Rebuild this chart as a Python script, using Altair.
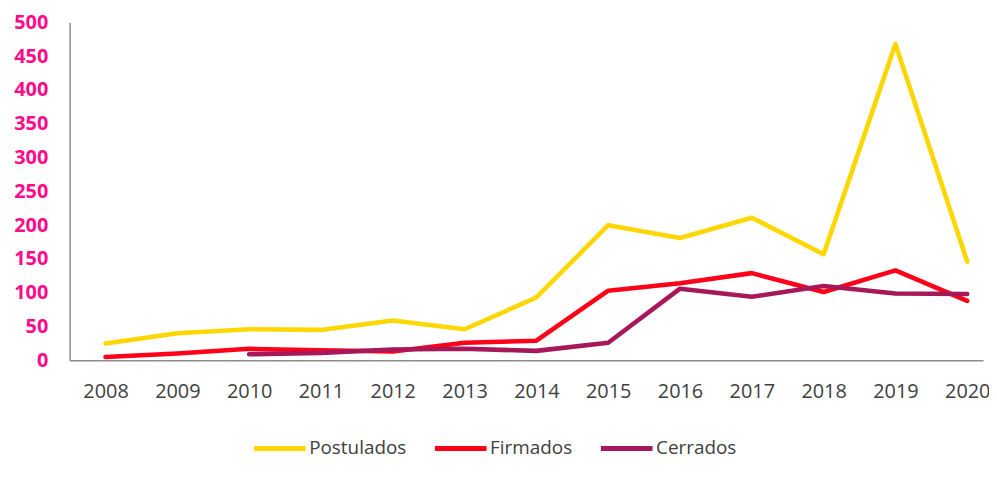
import altair as alt
import pandas as pd

years = list(range(2008, 2021))
postulados = [25, 40, 46, 45, 59, 46, 93, 200, 181, 211, 157, 468, 146]
firmados = [5, 10, 17, 15, 13, 26, 29, 103, 114, 129, 101, 133, 88]
cerrados = [None, None, 9, 11, 16, 17, 14, 26, 106, 94, 110, 99, 98]

series = ["Postulados", "Firmados", "Cerrados"]
colors = ["#FFD700", "#FF0019", "#A6185A"]

rows = []
for name, vals in zip(series, [postulados, firmados, cerrados]):
    for y, v in zip(years, vals):
        if v is not None:
            rows.append({"year": y, "value": v, "serie": name})
df = pd.DataFrame(rows)

FONT = "Open Sans"

chart = (
    alt.Chart(df)
    .mark_line(strokeWidth=4.6, strokeCap="round", strokeJoin="round")
    .encode(
        x=alt.X(
            "year:Q",
            scale=alt.Scale(domain=[2007.5, 2020.22], nice=False, zero=False),
            axis=alt.Axis(
                values=years,
                format="d",
                title=None,
                grid=False,
                ticks=False,
                domainColor="#8C8C8C",
                domainWidth=1.5,
                labelColor="#404040",
                labelFontSize=20,
                labelFont=FONT,
                labelPadding=21,
                labelFlush=False,
            ),
        ),
        y=alt.Y(
            "value:Q",
            scale=alt.Scale(domain=[0, 500], nice=False),
            axis=alt.Axis(
                values=list(range(0, 501, 50)),
                title=None,
                grid=False,
                ticks=False,
                domainColor="#8C8C8C",
                domainWidth=1.5,
                labelColor="#FF0A8C",
                labelFontSize=20,
                labelFontWeight="bold",
                labelFont=FONT,
                labelPadding=22,
            ),
        ),
        color=alt.Color(
            "serie:N",
            scale=alt.Scale(domain=series, range=colors),
            sort=series,
            legend=alt.Legend(
                title=None,
                orient="none",
                direction="horizontal",
                legendX=183,
                legendY=400,
                symbolType="stroke",
                symbolSize=2704,
                symbolStrokeWidth=5,
                labelFontSize=19,
                labelFont=FONT,
                labelColor="#404040",
                labelOffset=1,
                columnPadding=18,
                labelLimit=300,
            ),
        ),
    )
    .properties(
        width=919,
        height=340,
        autosize=alt.AutoSizeParams(type="none"),
        padding={"left": 62, "top": 13, "right": 6, "bottom": 130},
    )
    .configure(font=FONT)
    .configure_view(strokeWidth=0, stroke="transparent")
)

chart.save("out.html", embed_options={"renderer": "svg", "actions": False})
